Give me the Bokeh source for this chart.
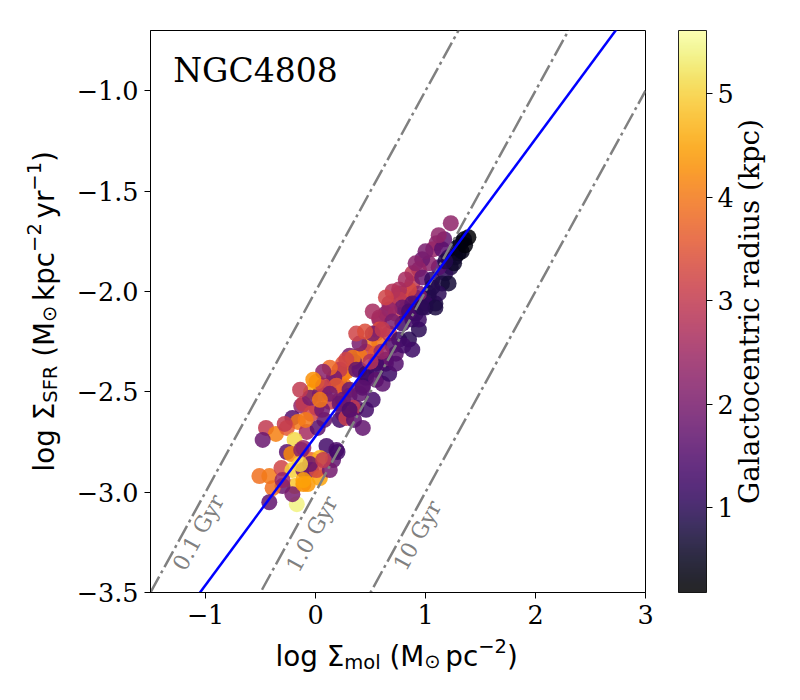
import math
from bokeh.plotting import figure
from bokeh.models import (Range1d, FixedTicker, LinearColorMapper, ColorBar, Label,
                          ColumnDataSource, CustomJSTickFormatter)
from bokeh.palettes import Inferno256
from bokeh.transform import transform
from bokeh.core.properties import value
from bokeh.embed import file_html
from bokeh.resources import INLINE

# ---------------- data ----------------
log_mol = [-0.13, -0.04, 0.04, 0.10, 0.22, 0.26, 0.17, 0.13, 0.01, -0.21, -0.16, -0.45, -0.36, -0.48,
           -0.26, -0.08, -0.19, 0.02, 0.08, 0.22, 0.25, 0.43, -0.26, -0.22, -0.11, -0.04, 0.10, 0.19,
           0.16, 0.04, -0.51, -0.42, -0.31, -0.21, -0.11, -0.04, -0.07, -0.19, -0.30, -0.39, -0.42,
           -0.17, -0.21, 0.04, 0.01, 0.13, 0.37, 0.31, 0.22, 0.25, 0.43, -0.28, 0.58, 0.64, 0.55, 0.58,
           0.49, 0.46, 0.55, 0.40, 0.31, 0.35, 0.25, 0.28, 0.22, 0.17, 0.19, 0.40, 0.46, 0.55, 0.64,
           0.61, 0.52, 0.40, 0.31, 0.01, 0.07, 0.13, -0.11, -0.05, 0.40, 0.37, 0.76, 0.82, 0.91, 1.03,
           1.09, 1.00, 0.67, 0.73, 0.58, 0.82, 0.88, 0.94, 0.79, 0.58, 0.52, 0.67, 0.76, 0.85, 0.88,
           0.73, 0.64, 0.55, 0.34, 0.28, 0.37, 0.46, 0.55, 0.67, 0.73, 0.43, 0.46, 0.34, 0.28, 0.25,
           1.23, 1.39, 1.35, 1.32, 1.29, 1.17, 1.10, 1.07, 1.15, 1.21, 1.27, 1.23, 1.18, 1.12, 1.03,
           0.97, 0.94, 0.88, 0.88, 0.97, 1.06, 1.15, 1.21, 1.12, 1.03, 1.00, 0.94, 0.85, 0.76, 0.76,
           0.79, 0.67, 0.88, 0.91, 1.09, 0.94, 1.30, 1.26, 0.20, -0.05, -0.11, 0.07, 1.12,
           -0.04, 0.06, -0.09, -0.13, -0.30, 0.22, 0.31, 0.35, -0.14, -0.11, 0.13, 0.07, -0.02, -0.14,
           0.04, 0.70, 0.64, 0.70, 0.61, 0.85, 0.97, 1.06, 1.18, 1.33, 1.36, 0.82, 0.91, 1.00, 0.80,
           0.70, 0.60, 0.50, 0.45, 0.52]
log_sfr = [-2.57, -2.50, -2.51, -2.48, -2.46, -2.47, -2.43, -2.55, -2.58, -2.63, -2.65, -2.68, -2.71,
           -2.74, -2.68, -2.70, -2.74, -2.68, -2.64, -2.64, -2.61, -2.68, -2.80, -2.81, -2.78, -2.84,
           -2.77, -2.79, -2.84, -2.83, -2.92, -2.92, -2.88, -2.89, -2.89, -2.89, -2.96, -2.97, -2.97,
           -2.98, -3.05, -3.06, -3.01, -2.93, -2.89, -2.89, -2.58, -2.52, -2.54, -2.41, -2.47, -2.66,
           -2.14, -2.11, -2.21, -2.26, -2.26, -2.30, -2.31, -2.32, -2.32, -2.35, -2.36, -2.40, -2.39,
           -2.43, -2.47, -2.39, -2.43, -2.39, -2.34, -2.46, -2.54, -2.51, -2.49, -2.45, -2.47, -2.51,
           -2.56, -2.53, -2.26, -2.21, -2.01, -2.03, -2.03, -2.03, -2.06, -2.08, -2.06, -2.11, -2.13,
           -2.09, -2.14, -2.19, -2.16, -2.19, -2.21, -2.21, -2.24, -2.24, -2.29, -2.31, -2.36, -2.36,
           -2.33, -2.34, -2.39, -2.41, -2.44, -2.41, -2.36, -2.48, -2.59, -2.58, -2.63, -2.54, -1.66,
           -1.73, -1.74, -1.76, -1.78, -1.74, -1.76, -1.79, -1.79, -1.83, -1.83, -1.88, -1.91, -1.88,
           -1.86, -1.84, -1.89, -1.91, -1.96, -1.93, -1.94, -1.96, -1.96, -2.01, -2.01, -2.06, -2.01,
           -1.99, -1.99, -2.04, -2.08, -2.09, -2.06, -2.11, -2.08, -2.14, -1.81, -1.86, -2.80, -2.86,
           -2.96, -2.84, -1.72,
           -2.61, -2.59, -2.64, -2.79, -2.94, -2.56, -2.59, -2.64, -2.86, -2.94, -2.38, -2.40, -2.44,
           -2.49, -2.54, -2.00, -2.03, -2.15, -2.19, -2.10, -2.08, -1.98, -1.85, -1.80, -1.77, -1.94,
           -1.86, -1.80, -2.27, -2.27, -2.30, -2.35, -2.20, -2.10]
radius_kpc = [2.3, 4.6, 1.8, 2.3, 1.7, 4.0, 1.8, 3.0, 2.4, 1.5, 4.0, 3.0, 4.1, 1.8, 3.6, 2.6, 5.1, 1.6,
              1.7, 1.3, 1.6, 1.7, 1.6, 4.2, 2.4, 3.8, 1.3, 1.4, 1.7, 4.7, 3.9, 4.0, 3.2, 5.0, 1.9, 1.8,
              4.4, 4.9, 1.8, 3.9, 1.7, 5.4, 2.0, 4.5, 3.3, 1.9, 1.6, 1.8, 3.0, 4.0, 1.6, 3.0, 2.4, 2.0,
              2.5, 3.9, 4.0, 3.1, 3.6, 4.0, 2.0, 1.8, 3.5, 4.1, 3.0, 2.0, 3.6, 1.7, 1.3, 1.2, 1.6, 1.6,
              1.3, 1.7, 1.8, 4.5, 3.2, 1.9, 3.0, 2.0, 2.0, 3.2, 2.5, 3.0, 1.6, 0.9, 0.8, 1.0, 2.5, 3.0,
              2.6, 1.8, 1.3, 1.0, 1.3, 3.4, 2.0, 3.0, 1.2, 1.0, 1.2, 1.6, 1.7, 1.3, 4.0, 3.2, 1.7, 1.2,
              1.6, 1.2, 1.5, 1.6, 1.3, 3.0, 3.1, 1.8, 2.3, 0.2, 0.35, 0.4, 0.5, 1.7, 2.2, 2.4, 1.6, 1.1,
              0.7, 0.8, 1.0, 1.5, 2.2, 1.8, 2.4, 2.9, 3.0, 1.8, 1.1, 0.8, 0.7, 1.0, 0.9, 1.1, 2.2, 3.3,
              2.7, 3.0, 1.8, 2.4, 1.6, 1.0, 0.8, 1.2, 0.3, 0.6, 1.3, 1.8, 4.3, 3.0, 2.3,
              3.2, 1.9, 4.0, 2.2, 2.4, 1.8, 1.4, 1.6, 5.0, 4.5, 3.8, 2.2, 4.3, 3.0, 4.0, 2.8, 3.2, 2.0,
              3.0, 1.4, 1.0, 0.9, 0.9, 0.45, 0.3, 2.6, 2.2, 2.0, 1.3, 1.5, 2.4, 2.8, 3.4, 2.6]

depletion_gyr = [0.1, 1.0, 10.0]
depletion_text = ["0.1 Gyr", "1.0 Gyr", "10 Gyr"]
depletion_text_x = [-1.064, -0.032, 0.927]
depletion_text_y = [-3.201, -3.209, -3.216]
fit_slope = 0.741
fit_intercept = -2.722
x_ticks = [-1, 0, 1, 2, 3]
y_ticks = [-3.5, -3.0, -2.5, -2.0, -1.5, -1.0]
cbar_ticks = [1, 2, 3, 4, 5]
cbar_low, cbar_high = 0.18, 5.61
galaxy = "NGC4808"

# ---------------- layout ----------------
X0, X1 = -1.5, 3.0
Y0, Y1 = -3.5, -0.7
W, H = 784, 684
BL, BT = 150, 30
FW, FH = 495, 562
BR, BB = W - BL - FW, H - BT - FH
sx = FW / (X1 - X0)
sy = FH / (Y1 - Y0)

def dx(px):  # picture x -> data x
    return X0 + (px - BL) / sx

def dy(py):
    return Y1 - (py - BT) / sy

p = figure(width=W, height=H, output_backend="svg", toolbar_location=None,
           x_range=Range1d(X0, X1), y_range=Range1d(Y0, Y1),
           min_border_left=BL, min_border_right=BR, min_border_top=BT, min_border_bottom=BB)
p.grid.visible = False
p.outline_line_color = "black"
p.outline_line_width = 1
p.background_fill_color = "white"
p.border_fill_color = "white"

for ax, ticks, code in ((p.xaxis[0], x_ticks, "return (tick<0?'\u2212':'') + Math.abs(tick).toFixed(0);"),
                        (p.yaxis[0], y_ticks, "return (tick<0?'\u2212':'') + Math.abs(tick).toFixed(1);")):
    ax.ticker = FixedTicker(ticks=ticks)
    ax.formatter = CustomJSTickFormatter(code=code)
    ax.major_label_text_font = "DejaVu Serif"
    ax.major_label_text_font_size = "25.5px"
    ax.major_label_text_color = "black"
    ax.major_tick_in = 0
    ax.major_tick_out = 6
    ax.minor_tick_line_color = None
    ax.major_tick_line_color = "black"
    ax.axis_line_color = "black"
    ax.major_label_standoff = 6

mapper = LinearColorMapper(palette=Inferno256, low=cbar_low, high=cbar_high)
src = ColumnDataSource(dict(x=log_mol, y=log_sfr, r=radius_kpc))
p.scatter("x", "y", source=src, size=16, fill_color=transform("r", mapper),
          line_color=None, fill_alpha=0.85)

for t in depletion_gyr:
    off = 6 - 9 - math.log10(t)
    p.line([X0, X1], [X0 + off, X1 + off], line_color="gray", line_width=2.5,
           line_dash="18 4 3 4")

p.line([X0, X1], [fit_slope * X0 + fit_intercept, fit_slope * X1 + fit_intercept],
       line_color="blue", line_width=2.5)

ang = math.atan2(sy, sx)
for tx, lx, ly in zip(depletion_text, depletion_text_x, depletion_text_y):
    p.add_layout(Label(x=lx, y=ly, text=tx, angle=ang, text_align="center",
                       text_baseline="middle", text_font="DejaVu Serif",
                       text_font_size="22px", text_color="gray"))

p.add_layout(Label(x=dx(172.7), y=dy(70), text=galaxy, text_font="DejaVu Serif",
                   text_font_size="33px", text_baseline="alphabetic", text_color="black"))

cb = ColorBar(color_mapper=mapper, location=(528, 0), width=28, height=FH, padding=0,
              ticker=FixedTicker(ticks=cbar_ticks), major_label_text_font="DejaVu Serif",
              major_label_text_font_size="25.5px", major_label_text_color="black",
              major_tick_in=0, major_tick_out=6,
              major_tick_line_color="black", minor_tick_line_color=None,
              bar_line_color="black", label_standoff=5, scale_alpha=0.85,
              background_fill_color=None, border_line_color=None)
p.add_layout(cb)

# colorbar title, placed in the right side panel (outside the frame)
p.add_layout(Label(x=dx(749), y=dy(311), text="Galactocentric radius (kpc)", angle=math.pi / 2,
                   text_align="center", text_baseline="alphabetic", text_font="DejaVu Serif",
                   text_font_size="27.8px", text_color="black"), "right")

# ---------------- mathtext-like axis labels (text glyph, overlay level) ----------------
ADV = {'l': 569, 'o': 1253, 'g': 1300, 'Σ': 1294, 'm': 1995, '(': 799, ')': 799,
       'M': 1767, '⊙': 1716, 'p': 1300, 'c': 1126, 'k': 1186, 'y': 1212, 'r': 842, 'S': 1300,
       'F': 1178, 'R': 1423, '−': 1716, '2': 1303, '1': 1303}
BASE, SMALL = 27.8, 19.5
SP = 651 / 2048 * BASE
THIN = 341 / 2048 * BASE
SUB, SUP = -6, 11

def tw(s, size):
    return sum(ADV[c] for c in s) / 2048 * size

# anchor just inside the frame (bottom-left corner) so that the glyph is not culled
AX, AY = X0 + 0.01, Y0 + 0.01
apx, apy = BL + 0.01 * sx, BT + FH - 0.01 * sy
cols = dict(x=[], y=[], text=[], xo=[], yo=[], fs=[], ang=[])

def pieces_label(pieces, px0, py0, vertical):
    off = 0.0
    for item in pieces:
        if isinstance(item, (int, float)):
            off += item
            continue
        txt, size, shift = item
        if vertical:
            tx_, ty_, a = px0 - shift, py0 - off, math.pi / 2
        else:
            tx_, ty_, a = px0 + off, py0 - shift, 0.0
        cols["x"].append(AX)
        cols["y"].append(AY)
        cols["text"].append(txt)
        cols["xo"].append(tx_ - apx)
        cols["yo"].append(ty_ - apy)
        cols["fs"].append(f"{size}px")
        cols["ang"].append(a)
        off += tw(txt, size)

xl = [("log", BASE, 0), SP, ("Σ", BASE, 0), ("mol", SMALL, SUB), SP, ("(", BASE, 0),
      ("M", BASE, 0), ("⊙", SMALL, SUB + 1), THIN, ("pc", BASE, 0), ("−2", SMALL, SUP),
      (")", BASE, 0)]
yl = [("log", BASE, 0), SP, ("Σ", BASE, 0), ("SFR", SMALL, SUB), SP, ("(", BASE, 0),
      ("M", BASE, 0), ("⊙", SMALL, SUB + 1), THIN, ("kpc", BASE, 0), ("−2", SMALL, SUP), THIN,
      ("yr", BASE, 0), ("−1", SMALL, SUP), (")", BASE, 0)]
pieces_label(xl, 275, 656, False)
pieces_label(yl, 44, 471, True)

p.text(x="x", y="y", text="text", x_offset="xo", y_offset="yo", angle="ang",
       text_font_size="fs", text_font=value("DejaVu Sans"), text_align="left",
       text_baseline="alphabetic", text_color="black", source=ColumnDataSource(cols),
       level="overlay")

open("out.html", "w").write(file_html(p, INLINE))
